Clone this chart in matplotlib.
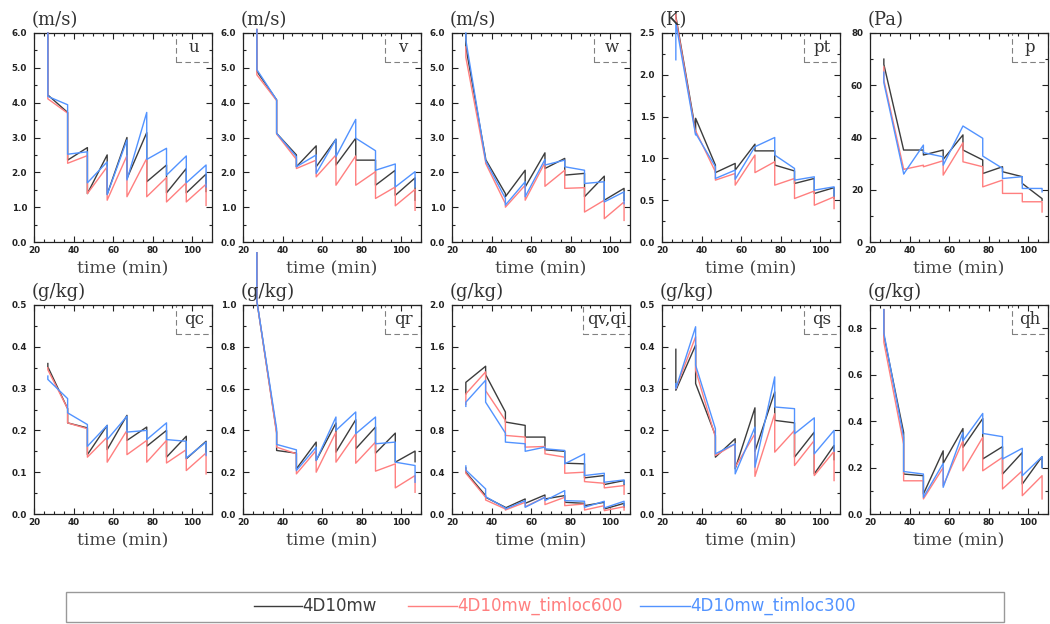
import numpy as np
import matplotlib
matplotlib.use("Agg")
import matplotlib.pyplot as plt
from matplotlib.ticker import MultipleLocator, FormatStrFormatter
from matplotlib.patches import Rectangle
from matplotlib.lines import Line2D

# Assimilation cycle times (min); each cycle has a forecast value followed by an analysis value
cycle_min = [27, 37, 47, 57, 67, 77, 87, 97, 107]

# RMSE sequences: [f0, a0, f1, a1, ..., f8, a8]
u_ctl = [6.0, 4.22, 3.72, 2.35, 2.71, 1.39, 2.50, 1.37, 3.00, 1.82, 3.14, 1.73, 2.21, 1.41, 2.11, 1.41, 1.95, 1.45]
u_600 = [6.0, 4.11, 3.70, 2.26, 2.48, 1.39, 2.16, 1.20, 2.48, 1.30, 2.40, 1.30, 1.85, 1.15, 1.70, 1.15, 1.66, 1.05]
u_300 = [6.0, 4.18, 3.94, 2.52, 2.59, 1.70, 2.30, 1.36, 2.93, 1.78, 3.72, 2.37, 2.69, 1.92, 2.47, 1.70, 2.21, 1.58]

v_ctl = [6.1, 4.90, 4.08, 3.12, 2.50, 2.16, 2.76, 2.16, 2.95, 2.21, 2.98, 2.35, 2.35, 1.63, 2.06, 1.34, 1.84, 1.20]
v_600 = [6.1, 4.80, 4.06, 3.10, 2.37, 2.11, 2.35, 1.87, 2.50, 1.63, 2.47, 1.63, 2.02, 1.25, 1.58, 1.04, 1.51, 0.91]
v_300 = [6.1, 4.95, 4.08, 3.12, 2.45, 2.16, 2.50, 1.97, 2.95, 2.45, 3.52, 2.98, 2.62, 2.06, 2.24, 1.58, 2.02, 1.58]

w_ctl = [5.95, 5.60, 2.40, 2.37, 1.39, 1.30, 2.06, 1.58, 2.56, 2.11, 2.40, 1.92, 1.97, 1.30, 1.89, 1.20, 1.54, 1.20]
w_600 = [5.60, 5.30, 2.30, 2.26, 1.10, 1.00, 1.63, 1.20, 2.28, 1.60, 2.06, 1.54, 1.56, 0.86, 1.20, 0.67, 1.15, 0.62]
w_300 = [6.00, 5.80, 2.35, 2.33, 1.25, 1.06, 1.73, 1.30, 2.37, 2.21, 2.35, 2.16, 2.06, 1.68, 1.73, 1.15, 1.44, 1.10]

pt_ctl = [2.75, 2.70, 1.33, 1.48, 0.92, 0.83, 0.94, 0.86, 1.17, 1.09, 1.09, 0.92, 0.85, 0.70, 0.76, 0.58, 0.65, 0.52]
pt_600 = [2.72, 2.68, 1.30, 1.33, 0.84, 0.74, 0.82, 0.68, 1.04, 0.83, 0.96, 0.68, 0.76, 0.52, 0.61, 0.44, 0.54, 0.40]
pt_300 = [2.18, 2.62, 1.28, 1.30, 0.90, 0.76, 0.86, 0.75, 1.14, 1.14, 1.25, 1.04, 0.88, 0.74, 0.78, 0.62, 0.66, 0.55]

p_ctl = [70.0, 68.0, 35.2, 35.2, 35.2, 33.3, 35.2, 31.6, 41.0, 35.2, 31.4, 26.2, 28.8, 26.9, 25.0, 22.4, 16.6, 16.0]
p_600 = [67.0, 62.0, 28.0, 27.8, 29.4, 28.8, 31.1, 25.6, 38.0, 30.7, 28.8, 21.1, 23.7, 18.6, 18.6, 15.4, 15.4, 11.5]
p_300 = [65.0, 61.0, 26.2, 26.0, 37.1, 34.2, 32.6, 29.4, 44.4, 44.4, 39.7, 32.9, 28.2, 24.3, 25.0, 20.5, 20.5, 19.2]

qc_ctl = [0.360, 0.352, 0.252, 0.218, 0.206, 0.142, 0.212, 0.154, 0.236, 0.176, 0.208, 0.162, 0.200, 0.136, 0.186, 0.132, 0.174, 0.144]
qc_600 = [0.350, 0.345, 0.252, 0.218, 0.204, 0.136, 0.184, 0.124, 0.200, 0.142, 0.176, 0.124, 0.176, 0.122, 0.154, 0.104, 0.146, 0.096]
qc_300 = [0.330, 0.322, 0.276, 0.242, 0.214, 0.162, 0.212, 0.178, 0.234, 0.196, 0.200, 0.178, 0.218, 0.178, 0.174, 0.134, 0.172, 0.140]

qr_ctl = [1.25, 1.02, 0.392, 0.304, 0.291, 0.216, 0.344, 0.256, 0.435, 0.296, 0.451, 0.312, 0.416, 0.291, 0.387, 0.248, 0.301, 0.250]
qr_600 = [1.25, 1.02, 0.384, 0.320, 0.288, 0.192, 0.304, 0.200, 0.392, 0.248, 0.384, 0.243, 0.344, 0.205, 0.240, 0.125, 0.184, 0.104]
qr_300 = [1.25, 1.02, 0.408, 0.333, 0.307, 0.208, 0.320, 0.256, 0.464, 0.400, 0.488, 0.384, 0.464, 0.336, 0.344, 0.248, 0.232, 0.152]

qv_ctl = [1.15, 1.26, 1.414, 1.334, 0.976, 0.880, 0.848, 0.736, 0.736, 0.614, 0.600, 0.486, 0.480, 0.346, 0.368, 0.282, 0.320, 0.280]
qv_600 = [1.05, 1.15, 1.360, 1.180, 0.896, 0.752, 0.736, 0.640, 0.646, 0.576, 0.544, 0.390, 0.400, 0.310, 0.294, 0.250, 0.272, 0.190]
qv_300 = [1.03, 1.07, 1.280, 1.070, 0.774, 0.688, 0.672, 0.600, 0.640, 0.624, 0.608, 0.480, 0.576, 0.368, 0.390, 0.304, 0.326, 0.290]

qi_ctl = [0.44, 0.40, 0.176, 0.160, 0.064, 0.058, 0.144, 0.102, 0.182, 0.144, 0.176, 0.112, 0.102, 0.080, 0.112, 0.048, 0.102, 0.064]
qi_600 = [0.43, 0.39, 0.160, 0.134, 0.048, 0.038, 0.112, 0.070, 0.160, 0.090, 0.160, 0.080, 0.096, 0.038, 0.080, 0.032, 0.070, 0.038]
qi_300 = [0.46, 0.42, 0.240, 0.166, 0.058, 0.048, 0.128, 0.064, 0.160, 0.128, 0.224, 0.128, 0.122, 0.064, 0.122, 0.058, 0.122, 0.080]

qs_ctl = [0.394, 0.296, 0.404, 0.312, 0.188, 0.136, 0.180, 0.108, 0.254, 0.150, 0.292, 0.224, 0.218, 0.136, 0.196, 0.096, 0.164, 0.130]
qs_600 = [0.302, 0.300, 0.424, 0.344, 0.184, 0.140, 0.168, 0.112, 0.192, 0.090, 0.240, 0.148, 0.200, 0.116, 0.176, 0.092, 0.150, 0.080]
qs_300 = [0.312, 0.300, 0.448, 0.356, 0.204, 0.144, 0.168, 0.096, 0.208, 0.112, 0.328, 0.256, 0.252, 0.192, 0.230, 0.144, 0.200, 0.150]

qh_ctl = [0.88, 0.77, 0.351, 0.172, 0.165, 0.086, 0.272, 0.218, 0.368, 0.287, 0.411, 0.237, 0.290, 0.172, 0.265, 0.129, 0.247, 0.200]
qh_600 = [0.88, 0.74, 0.301, 0.143, 0.143, 0.065, 0.200, 0.122, 0.315, 0.186, 0.330, 0.186, 0.244, 0.108, 0.186, 0.079, 0.165, 0.065]
qh_300 = [0.88, 0.78, 0.330, 0.183, 0.172, 0.072, 0.218, 0.115, 0.351, 0.315, 0.433, 0.347, 0.333, 0.237, 0.283, 0.165, 0.247, 0.200]

experiments = ["4D10mw", "4D10mw_timloc600", "4D10mw_timloc300"]
exp_colors = ["#3c3c3c", "#ff7f7f", "#5293ff"]

panel_tags = ["u", "v", "w", "pt", "p", "qc", "qr", "qv,qi", "qs", "qh"]
panel_units = ["(m/s)", "(m/s)", "(m/s)", "(K)", "(Pa)",
               "(g/kg)", "(g/kg)", "(g/kg)", "(g/kg)", "(g/kg)"]
panel_series = [
    [(u_ctl, u_600, u_300)],
    [(v_ctl, v_600, v_300)],
    [(w_ctl, w_600, w_300)],
    [(pt_ctl, pt_600, pt_300)],
    [(p_ctl, p_600, p_300)],
    [(qc_ctl, qc_600, qc_300)],
    [(qr_ctl, qr_600, qr_300)],
    [(qv_ctl, qv_600, qv_300), (qi_ctl, qi_600, qi_300)],
    [(qs_ctl, qs_600, qs_300)],
    [(qh_ctl, qh_600, qh_300)],
]
y_top = [6.0, 6.0, 6.0, 2.5, 80, 0.5, 1.0, 2.0, 0.5, 0.9]
y_step = [1.0, 1.0, 1.0, 0.5, 20, 0.1, 0.2, 0.4, 0.1, 0.2]

W, H = 1050, 624
fig = plt.figure(figsize=(W / 100, H / 100), dpi=100)
renderer = fig.canvas.get_renderer()

col_left = [34, 243, 452, 662, 870]
row_top = [33, 305]
ax_w, ax_h = 178, 209

serif = "DejaVu Serif"
t_times = np.repeat(cycle_min, 2)

for i in range(10):
    r, c = divmod(i, 5)
    left, top = col_left[c], row_top[r]
    ax = fig.add_axes([left / W, 1 - (top + ax_h) / H, ax_w / W, ax_h / H])

    for group in panel_series[i]:
        for seq, col in zip(group, exp_colors):
            ax.plot(t_times, seq, color=col, lw=1.0, clip_on=False, zorder=3)

    ax.set_xlim(20, 110)
    ax.set_ylim(0, y_top[i])
    ax.xaxis.set_major_locator(MultipleLocator(20))
    ax.xaxis.set_minor_locator(MultipleLocator(5))
    ax.yaxis.set_major_locator(MultipleLocator(y_step[i]))
    ax.yaxis.set_minor_locator(MultipleLocator(y_step[i] / 2))
    ax.yaxis.set_major_formatter(FormatStrFormatter("%d" if y_top[i] > 10 else "%.1f"))
    ax.tick_params(which="both", direction="in", top=True, right=True, width=0.8, color="#222222")
    ax.tick_params(which="major", length=4.5)
    ax.tick_params(which="minor", length=2.5)
    ax.tick_params(axis="x", pad=3)
    ax.tick_params(axis="y", pad=5)
    for lab in ax.get_xticklabels() + ax.get_yticklabels():
        lab.set_fontsize(6.3)
        lab.set_fontweight("bold")
        lab.set_color("#222222")
    for sp in ax.spines.values():
        sp.set_linewidth(0.9)
        sp.set_color("#222222")

    ax.set_xlabel("time (min)", family=serif, fontsize=12.5, color="#444444", labelpad=4)
    ax.annotate(panel_units[i], xy=(0, 1), xycoords="axes fraction", xytext=(-2, 3),
                textcoords="offset points", ha="left", va="bottom",
                family=serif, fontsize=13, color="#333333")

    # variable tag in a dashed box at the upper-right corner
    txt = ax.text(0, 0, panel_tags[i], family=serif, fontsize=12, color="#333333",
                  ha="center", va="center", transform=ax.transAxes)
    tw = txt.get_window_extent(renderer).width
    bw, bh = max(36.0, tw + 8.0), 29.0
    fw, fh = bw / ax_w, bh / ax_h
    txt.set_position((1 - fw / 2, 1 - fh / 2))
    ax.add_patch(Rectangle((1 - fw, 1 - fh), fw, fh, transform=ax.transAxes, fill=False,
                           ec="#808080", lw=0.8, ls=(0, (5, 3)), clip_on=False, zorder=1))

# legend box across the bottom
fig.patches.append(Rectangle((66 / W, 1 - 622 / H), (1004 - 66) / W, 30 / H,
                             transform=fig.transFigure, fill=False, ec="#999999", lw=1.0))
leg_line_x = [(254, 302), (408, 457), (640, 690)]
ly = 1 - 606 / H
for (x0, x1), name, col in zip(leg_line_x, experiments, exp_colors):
    fig.lines.append(Line2D([x0 / W, x1 / W], [ly, ly], transform=fig.transFigure,
                            color=col, lw=1.0))
    fig.text(x1 / W, ly, name, color=col, fontsize=12, ha="left", va="center",
             family="DejaVu Sans")

fig.savefig("out.png", dpi=100, facecolor="white")
